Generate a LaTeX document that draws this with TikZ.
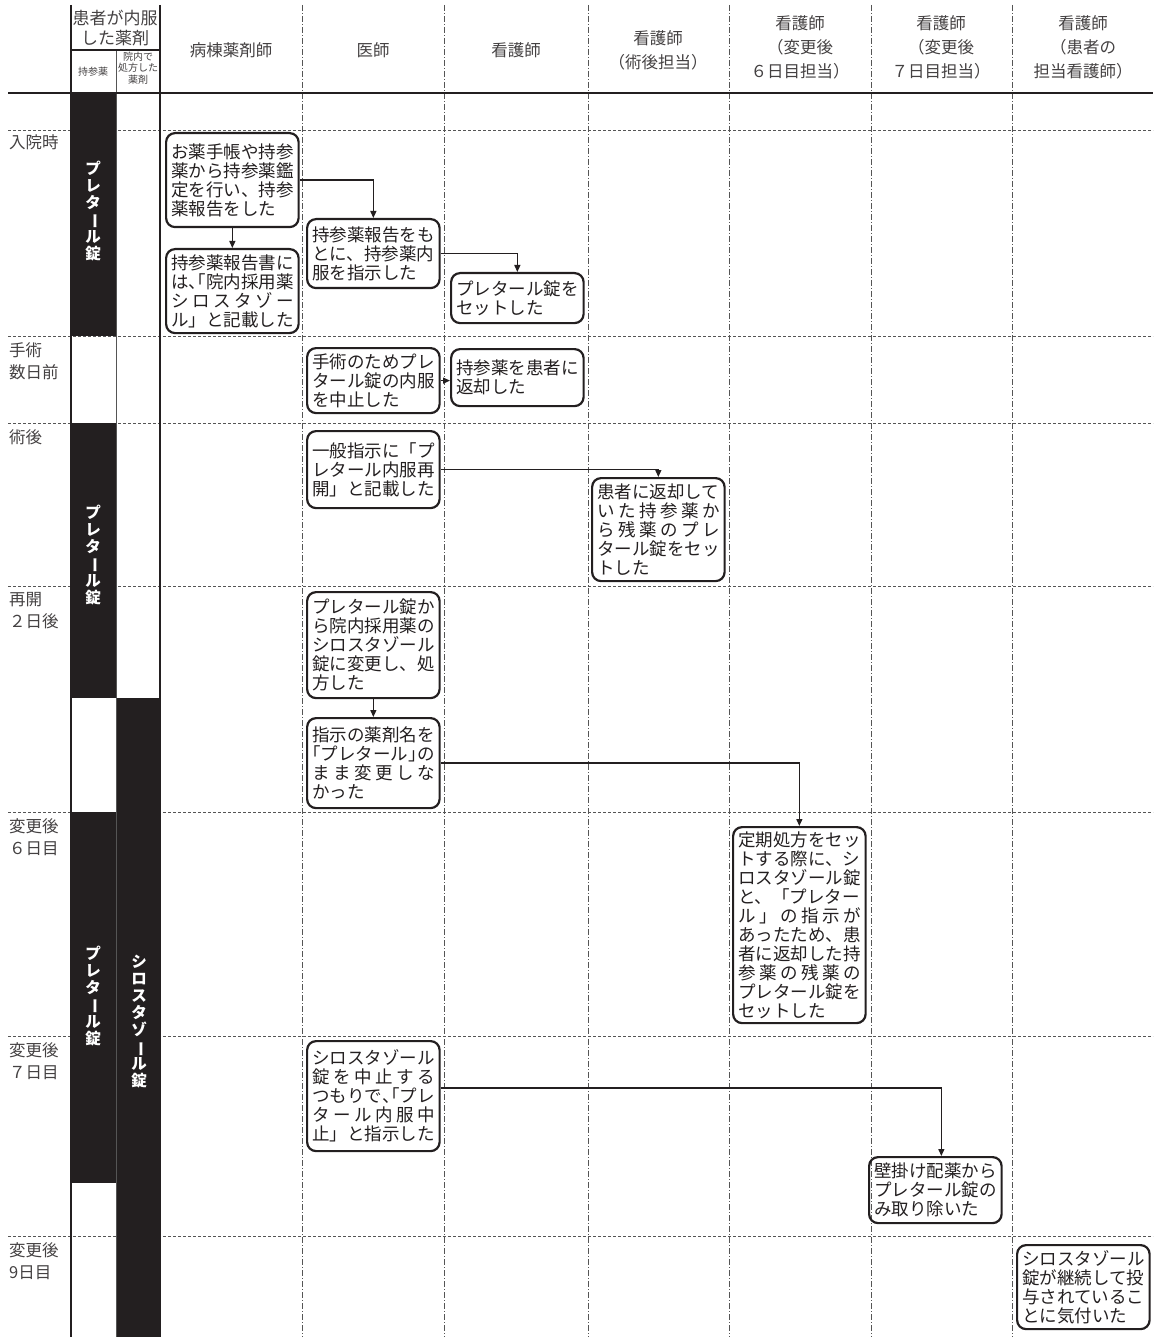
\documentclass[tikz,border=0pt]{standalone}
\usepackage{fontspec}
\setmainfont{Noto Sans CJK JP}
\usetikzlibrary{arrows.meta}
\definecolor{ink}{HTML}{231F20}
\definecolor{rule}{HTML}{555555}
\newcommand\spr[1]{\makebox[7em][s]{\spaceskip=0pt plus 1fil\relax #1}}
\newcommand\ob[1]{\makebox[.5em][r]{#1}}
\newcommand\cb[1]{\makebox[.5em][l]{#1}}
\newcommand\vbar{\rotatebox[origin=c]{-90}{ー}}

\begin{document}
\begin{tikzpicture}[x=1pt,y=-1pt,
  font=\fontsize{17.5}{19}\selectfont,
  act/.style={draw=ink,line width=2.2pt,rounded corners=9pt,anchor=north west,text width=122.5pt,align=left,inner xsep=5pt,inner ysep=3pt,text=ink},
  hdr/.style={font=\fontsize{16.5}{24}\selectfont,align=center,text=ink!85,inner sep=0pt},
  tiny/.style={font=\fontsize{10}{11.5}\selectfont,align=center,text=ink!85,inner sep=0pt},
  tlbl/.style={font=\fontsize{16.5}{22}\selectfont,align=left,anchor=north west,text=ink!85,inner sep=0pt},
  barlbl/.style={font=\bfseries\fontsize{15.5}{17}\selectfont,align=center,text=white,inner sep=0pt},
  lane/.style={draw=rule,line width=0.8pt,dash pattern=on 6pt off 2pt on 1pt off 2pt},
  row/.style={draw=rule,line width=0.8pt,dash pattern=on 3pt off 2pt},
  frame/.style={draw=ink,line width=1.5pt},
  arr/.style={-{Triangle[length=7pt,width=6pt]},line width=1.3pt,color=ink}]
\useasboundingbox (0,0) rectangle (1153,1337);
% grid
\draw[row] (8,130) -- (1153,130); \draw[row] (8,336) -- (1153,336);
\draw[row] (8,423) -- (1153,423); \draw[row] (8,586) -- (1153,586);
\draw[row] (8,812) -- (1153,812); \draw[row] (8,1036) -- (1153,1036);
\draw[row] (8,1236) -- (1153,1236);
\draw[lane] (302,5) -- (302,1337); \draw[lane] (444,5) -- (444,1337);
\draw[lane] (588,5) -- (588,1337); \draw[lane] (729,5) -- (729,1337);
\draw[lane] (871,5) -- (871,1337); \draw[lane] (1012,5) -- (1012,1337);
% drug bars
\fill[ink] (71,93) rectangle (116,336);
\fill[ink] (71,423) rectangle (116,698);
\fill[ink] (71,812) rectangle (116,1183);
\fill[ink] (116,698) rectangle (160,1337);
\draw[draw=rule,line width=0.8pt] (116,50) -- (116,1337);
\draw[frame] (71,5) -- (71,1337); \draw[frame] (160,5) -- (160,1337);
\draw[frame] (71,50) -- (160,50);
\draw[draw=ink,line width=2.5pt] (8,93) -- (1153,93);
\node[barlbl] (pletalA) at (93,211) {プ\\レ\\タ\\\vbar\\ル\\錠};
\node[barlbl] (pletalB) at (93,555) {プ\\レ\\タ\\\vbar\\ル\\錠};
\node[barlbl] (pletalC) at (93,996) {プ\\レ\\タ\\\vbar\\ル\\錠};
\node[barlbl] (cilo) at (139,1022) {シ\\ロ\\ス\\タ\\ゾ\\\vbar\\ル\\錠};
% header
\node[hdr,font=\fontsize{17}{20}\selectfont] (hmed) at (115,28) {患者が内服\\した薬剤};
\node[tiny] (hown) at (93,72) {持参薬};
\node[tiny] (hhosp) at (138,68) {院内で\\処方した\\薬剤};
\node[hdr] (hpharm) at (231,50) {病棟薬剤師};
\node[hdr] (hdoc) at (373,50) {医師};
\node[hdr] (hnurse) at (516,50) {看護師};
\node[hdr] (hpost) at (658,50) {看護師\\（術後担当）};
\node[hdr] (hsix) at (800,47) {看護師\\（変更後\\６日目担当）};
\node[hdr] (hseven) at (941,47) {看護師\\（変更後\\７日目担当）};
\node[hdr] (hward) at (1083,47) {看護師\\（患者の\\担当看護師）};
% time labels
\node[tlbl] (tadmit) at (9,134) {入院時};
\node[tlbl] (tpreop) at (9,342) {手術\\数日前};
\node[tlbl] (tpostop) at (9,429) {術後};
\node[tlbl] (tresume) at (9,592) {再開\\２日後};
\node[tlbl] (tsix) at (9,818) {変更後\\６日目};
\node[tlbl] (tseven) at (9,1042) {変更後\\７日目};
\node[tlbl] (tnine) at (9,1242) {変更後\\9日目};
% events
\node[act,minimum height=94pt] (check) at (165,132) {お薬手帳や持参\\薬から持参薬鑑\\定を行い、持参\\薬報告をした};
\node[act,minimum height=84pt] (report) at (165,248) {持参薬報告書に\\は\cb{、}\ob{「}院内採用薬\\\spr{シ ロ ス タ ゾ ー}\\ル」と記載した};
\node[act,minimum height=69pt] (order) at (306,218) {持参薬報告をも\\とに、持参薬内\\服を指示した};
\node[act,minimum height=50pt] (setA) at (450,272) {プレタール錠を\\セットした};
\node[act,minimum height=65pt] (stop) at (306,347) {手術のためプレ\\タール錠の内服\\を中止した};
\node[act,minimum height=57pt] (back) at (450,348) {持参薬を患者に\\返却した};
\node[act,minimum height=77pt] (resume) at (306,430) {一般指示に「プ\\レタール内服再\\開」と記載した};
\node[act,minimum height=103pt] (setB) at (591,477) {患者に返却して\\\spr{い た 持 参 薬 か}\\\spr{ら 残 薬 の プ レ}\\タール錠をセッ\\トした};
\node[act,minimum height=106pt] (switch) at (306,591) {プレタール錠か\\ら院内採用薬の\\シロスタゾール\\錠に変更し、処\\方した};
\node[act,minimum height=90pt] (keep) at (306,717) {指示の薬剤名を\\\ob{「}プレタール\cb{」}の\\\spr{ま ま 変 更 し な}\\かった};
\node[act,minimum height=196pt] (setC) at (732,826) {定期処方をセッ\\トする際に、シ\\ロスタゾール錠\\と、「プレター\\\spr{ル 」 の 指 示 が}\\あったため、患\\者に返却した持\\\spr{参 薬 の 残 薬 の}\\プレタール錠を\\セットした};
\node[act,minimum height=110pt] (cancel) at (306,1040) {シロスタゾール\\\spr{錠 を 中 止 す る}\\つもりで\cb{、}\ob{「}プレ\\\spr{タ ー ル 内 服 中}\\止」と指示した};
\node[act,minimum height=66pt] (remove) at (868,1156) {壁掛け配薬から\\プレタール錠の\\み取り除いた};
\node[act,minimum height=84pt] (notice) at (1016,1244) {シロスタゾール\\錠が継続して投\\与されているこ\\とに気付いた};
% flow
\draw[arr] (check) -| (order); \draw[arr] (check) -- (report);
\draw[arr] (order) -| (setA);
\draw[arr] (stop) -- (stop -| back.west);
\draw[arr] (resume) -| (setB);
\draw[arr] (switch) -- (keep);
\draw[arr] (keep) -| (setC);
\draw[arr] ([yshift=8pt]cancel.east) -| ([xshift=6pt]remove.north);
\end{tikzpicture}
\end{document}
